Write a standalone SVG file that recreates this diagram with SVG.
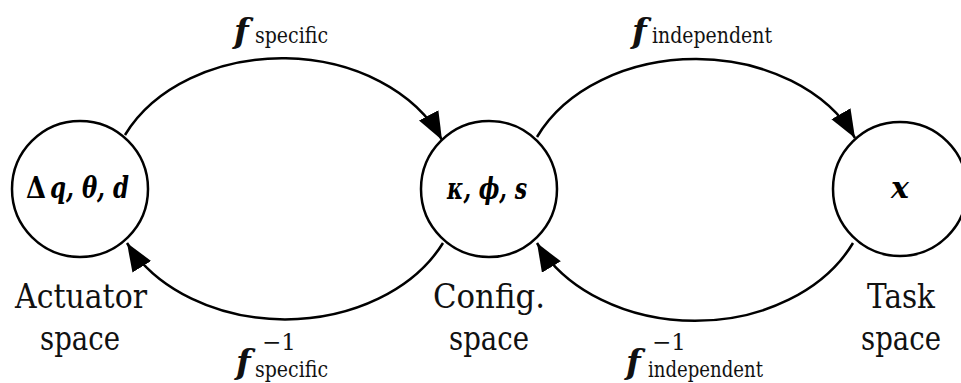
<svg xmlns="http://www.w3.org/2000/svg" width="961" height="383" viewBox="0 0 961 383">
<style>
text{font-family:"DejaVu Serif","Liberation Serif",serif}
.node circle{fill:#fff;stroke:#000;stroke-width:2.5}
.math{font-weight:bold;font-style:italic;font-size:30px;fill:#000}
.up{font-weight:bold;font-size:30px;fill:#000}
.lbl{font-size:34px;fill:#111;text-anchor:middle}
.conn path{fill:none;stroke:#000;stroke-width:2.5}
.fn{font-weight:bold;font-style:italic;font-size:34px;fill:#111}
.sub{font-size:23px;fill:#111}
</style>
<defs>
<marker id="ah" markerUnits="userSpaceOnUse" markerWidth="32" markerHeight="24" refX="28" refY="11" orient="auto">
<path d="M0,0 L28,11 L0,22 Z" fill="#000"/>
</marker>
</defs>
<rect width="961" height="383" fill="#fff"/>
<g class="conn" id="connectors">
<path d="M125,135 A173,132 0 0 1 442,140" marker-end="url(#ah)"/>
<path d="M537,137 A174,132 0 0 1 855,138" marker-end="url(#ah)"/>
<path d="M443,243 A175,134 0 0 1 127,243" marker-end="url(#ah)"/>
<path d="M853,243 A174,134 0 0 1 537,243" marker-end="url(#ah)"/>
</g>
<g class="node" id="actuator">
<circle cx="80" cy="189" r="68"/>
<text class="up" x="26" y="198" textLength="20" lengthAdjust="spacingAndGlyphs">Δ</text>
<text class="math" x="50" y="198" textLength="79" lengthAdjust="spacingAndGlyphs">q, θ, d</text>
<text class="lbl" x="81" y="308" textLength="132" lengthAdjust="spacingAndGlyphs">Actuator</text>
<text class="lbl" x="80" y="350" textLength="80" lengthAdjust="spacingAndGlyphs">space</text>
</g>
<g class="node" id="config">
<circle cx="489" cy="189" r="68"/>
<text class="math" x="487" y="199" text-anchor="middle" textLength="80" lengthAdjust="spacingAndGlyphs">κ, ϕ, s</text>
<text class="lbl" x="489" y="308" textLength="112" lengthAdjust="spacingAndGlyphs">Config.</text>
<text class="lbl" x="489" y="350" textLength="80" lengthAdjust="spacingAndGlyphs">space</text>
</g>
<g class="node" id="task">
<circle cx="900" cy="189" r="67"/>
<text class="math" x="900" y="198" text-anchor="middle" font-size="32">x</text>
<text class="lbl" x="901" y="308" textLength="68" lengthAdjust="spacingAndGlyphs">Task</text>
<text class="lbl" x="901" y="350" textLength="80" lengthAdjust="spacingAndGlyphs">space</text>
</g>
<g id="labels">
<text class="fn" x="234" y="43">f</text>
<text class="sub" x="255" y="43" textLength="73" lengthAdjust="spacingAndGlyphs">specific</text>
<text class="fn" x="632" y="43">f</text>
<text class="sub" x="652" y="43" textLength="120" lengthAdjust="spacingAndGlyphs">independent</text>
<text class="fn" x="236" y="374">f</text>
<text class="sub" x="255" y="377" textLength="73" lengthAdjust="spacingAndGlyphs">specific</text>
<text class="sub" x="262" y="350">−1</text>
<text class="fn" x="626" y="374">f</text>
<text class="sub" x="648" y="377" textLength="115" lengthAdjust="spacingAndGlyphs">independent</text>
<text class="sub" x="652" y="350">−1</text>
</g>
</svg>
